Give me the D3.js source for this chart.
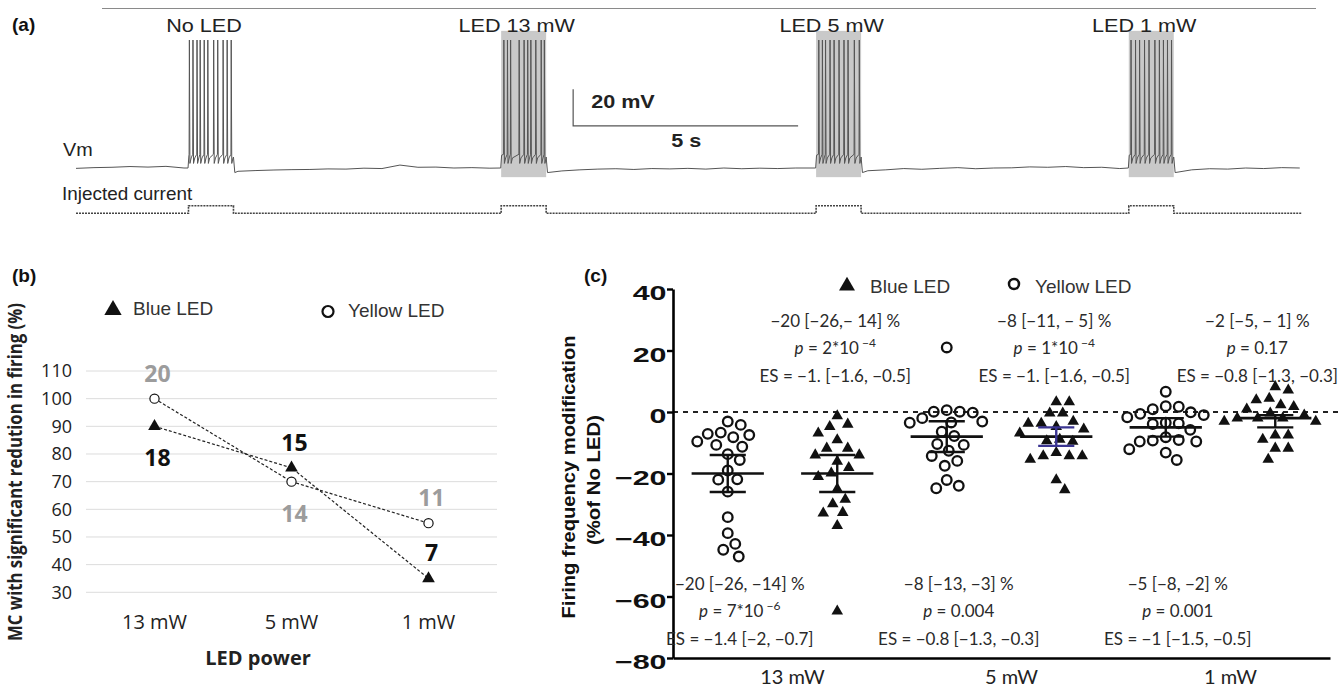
<!DOCTYPE html>
<meta charset="utf-8">
<head>
	<title>LED and mitral cell firing</title>
	<script src="https://cdnjs.cloudflare.com/ajax/libs/d3/7.8.5/d3.min.js" charset="utf-8"></script>
</head>

<style type="text/css">
	body { margin: 0; background: #fff; font-family: "Liberation Sans", Arial, sans-serif; }
	.plabel { font-family: "Liberation Sans", Arial, sans-serif; font-weight: bold; font-size: 19px; fill: #111; }
	.atext { font-family: "Liberation Sans", Arial, sans-serif; font-size: 18px; fill: #222; }
	.btick { font-family: "Open Sans", sans-serif; font-size: 18px; fill: #222; }
	.bcat { font-family: "Open Sans", sans-serif; font-size: 20px; fill: #222; }
	.bnum { font-family: "Open Sans", sans-serif; font-size: 23px; font-weight: bold; }
	.legend { font-family: "Liberation Sans", Arial, sans-serif; font-size: 19px; fill: #333; }
	.ann { font-family: Lato, "Open Sans", sans-serif; font-size: 17px; fill: #2a2a2a; }
	.ccat { font-family: Lato, "Open Sans", sans-serif; font-size: 20px; fill: #222; }
</style>

<body>
<div id="chart"></div>

<script>
// ---------- (a) trace ----------
var burstStarts = [2.5, 9.45, 16.45, 23.4];   // s
var burstDur = 1.0;
var burstLabels = ["No LED", "LED 13 mW", "LED 5 mW", "LED 1 mW"];
var ledOn = [false, true, true, true];
// spike times inside each burst (s from burst start)
var spikeTimes = [
	[0.02, 0.10, 0.19, 0.26, 0.35, 0.43, 0.56, 0.65, 0.77, 0.86, 0.95],
	[0.06, 0.14, 0.21, 0.40, 0.51, 0.59, 0.66, 0.77, 0.89, 0.96],
	[0.06, 0.14, 0.21, 0.31, 0.40, 0.51, 0.62, 0.71, 0.85, 0.96],
	[0.05, 0.15, 0.24, 0.35, 0.45, 0.58, 0.68, 0.77, 0.86, 0.95]
];
var spikePeak = 5; // mV
// resting Vm sampled every 0.4 s (null = inside burst)
var restStep = 0.4;
var restVm = [-65.2, -64.8, -64.6, -64.2, -64.5, -64.1, -65.0, null, null, -66.8,
	-66.4, -66.1, -65.9, -65.8, -65.5, -65.6, -65.1, -65.3, -63.4, -64.6,
	-64.5, -65.0, -64.8, -65.1, null, null, null, -66.6, -66.0, -65.6,
	-65.4, -65.8, -65.3, -65.5, -65.2, -65.6, -65.0, -65.4, -65.1, -65.3,
	-65.0, -65.2, null, null, -66.5, -66.0, -65.3, -65.7, -65.2, -64.8,
	-65.4, -65.0, -64.9, -64.4, -64.6, -64.2, -64.8, -64.6, -65.3, null,
	null, null, -66.0, -65.4, -65.6, -65.0, -65.3, -64.8, -65.0];

// ---------- (b) proportion ----------
var powers = ["13 mW", "5 mW", "1 mW"];
var bluePct = [90, 75, 35];
var yellowPct = [100, 70, 55];
var blueN = [18, 15, 7];
var yellowN = [20, 14, 11];
var pctTicks = [30, 40, 50, 60, 70, 80, 90, 100, 110];

// ---------- (c) firing modification (% of No LED) ----------
var yellowVals = [
	[-4.2, -3.1, -7.1, -8.2, -7.5, -6.7, -9.6, -11.3, -10.7, -13.7, -15.6, -19, -22, -21.9, -25.9, -34.2, -39.4, -42.9, -44.8, -47],
	[21, 0.1, 0.6, 0.1, -0.2, -2, -3.4, -3.5, -3.1, -7.8, -6.4, -10.7, -10.4, -12.6, -14.3, -15.9, -17.5, -22.1, -24.8, -24],
	[6.6, -0.1, 1.9, 1.7, 0.9, -1.7, -1, -0.6, -3.7, -3.5, -3.9, -5.8, -9.1, -9.6, -9.6, -9.3, -8.2, -12.1, -13.2, -15.6]
];
var blueVals = [
	[-1.3, -4.8, -4, -6.9, -9.1, -11.8, -11.8, -14, -14, -16.1, -18.1, -21, -19.9, -25, -28.4, -29.9, -32.9, -32.7, -37, -64.8],
	[3.3, 3.3, -0.4, -0.4, -5.6, -3.7, -3.7, -3.1, -4.8, -8.9, -9.6, -9.4, -6.9, -14.3, -14.3, -15.4, -14.3, -13.2, -22.1, -25.3],
	[7.1, 8.2, 3.9, 4.4, 1.7, 2.3, 0.9, -0.4, -2, -2, -2, -1, -3.1, -3.1, -7.5, -8.9, -7.5, -11.8, -11.8, -15.4]
];
var yellowMean = [-20, -8, -5], yellowLo = [-26, -13, -8], yellowHi = [-14, -3, -2];
var blueMean = [-20, -8, -2], blueLo = [-26, -11, -5], blueHi = [-14, -5, -1];
var modTicks = [40, 20, 0, -20, -40, -60, -80];

var blueCI = ["−20 [−26,− 14] %", "−8 [−11, − 5] %", "−2 [−5, − 1] %"];
var blueP = [["2*10", "−4"], ["1*10", "−4"], ["0.17", null]];
var blueES = ["ES = −1. [−1.6, −0.5]", "ES = −1. [−1.6, −0.5]", "ES = −0.8 [−1.3, −0.3]"];
var yellowCI = ["−20 [−26, −14] %", "−8 [−13, −3] %", "−5 [−8, −2] %"];
var yellowP = [["7*10", "−6"], ["0.004", null], ["0.001", null]];
var yellowES = ["ES = −1.4 [−2, −0.7]", "ES = −0.8 [−1.3, −0.3]", "ES = −1 [−1.5, −0.5]"];

var svg = d3.select("#chart").append("svg")
	.attr("width", 1342)
	.attr("height", 689);

function minus(d) { return d < 0 ? "−" + Math.abs(d) : String(d); }

// =========================== (a) ===========================
var gA = svg.append("g");
var xT = d3.scaleLinear().domain([0, 27.25]).range([76, 1302]);
var yVm = d3.scaleLinear().domain([-65, 5]).range([168, 40]);
var yI = d3.scaleLinear().domain([0, 1]).range([213.3, 205.7]);

gA.append("line")
	.attr("x1", 102).attr("x2", 1316).attr("y1", 8.5).attr("y2", 8.5)
	.attr("stroke", "#8a8a8a").attr("stroke-width", 1.2);

gA.append("text").attr("class", "plabel").attr("x", 12).attr("y", 31).text("(a)");

// LED shading
gA.selectAll(".led")
	.data(burstStarts.filter(function(s, i) { return ledOn[i]; }))
 .enter().append("rect")
	.attr("class", "led")
	.attr("x", function(d) { return xT(d); })
	.attr("width", xT(burstDur) - xT(0))
	.attr("y", yVm(10))
	.attr("height", yVm(-70) - yVm(10))
	.attr("fill", "#c9c9c9");

// build Vm points
var vmPts = [];
restVm.forEach(function(v, i) {
	var t = i * restStep;
	if (v === null) return;
	var inside = burstStarts.some(function(s) { return t > s - 0.05 && t < s + burstDur + 0.1; });
	if (!inside) vmPts.push([t, v]);
});
burstStarts.forEach(function(s, i) {
	vmPts.push([s - 0.01, -65], [s + 0.01, -58]);
	spikeTimes[i].forEach(function(t) {
		var ts = s + t;
		vmPts.push([ts - 0.006, -57.5], [ts, spikePeak], [ts + 0.012, -62.5], [ts + 0.04, -59.5]);
	});
	vmPts.push([s + burstDur, -59], [s + burstDur + 0.03, -67.5]);
});
vmPts.sort(function(a, b) { return a[0] - b[0]; });

gA.append("path")
	.datum(vmPts)
	.attr("fill", "none")
	.attr("stroke", "#555")
	.attr("stroke-width", 1)
	.attr("d", d3.line().x(function(d) { return xT(d[0]); }).y(function(d) { return yVm(d[1]); }));

// injected current
var iPts = [[0, 0]];
burstStarts.forEach(function(s) { iPts.push([s, 1], [s + burstDur, 0]); });
iPts.push([27.25, 0]);
gA.append("path")
	.datum(iPts)
	.attr("fill", "none")
	.attr("stroke", "#444")
	.attr("stroke-width", 1.6)
	.attr("stroke-dasharray", "2,1")
	.attr("d", d3.line().curve(d3.curveStepAfter).x(function(d) { return xT(d[0]); }).y(function(d) { return yI(d[1]); }));

gA.selectAll(".blab")
	.data(burstLabels)
 .enter().append("text")
	.attr("class", "atext")
	.attr("text-anchor", "middle")
	.attr("transform", function(d, i) { return "translate(" + (xT(burstStarts[i] + burstDur / 2) - 7) + ",32) scale(1.2,1)"; })
	.text(function(d) { return d; });

gA.append("text").attr("class", "atext").attr("transform", "translate(63,156) scale(1.1,1)").text("Vm");
gA.append("text").attr("class", "atext").attr("transform", "translate(62,200) scale(1.05,1)").text("Injected current");

// scale bar: 20 mV, 5 s
var sbT = 11.05, sbV = -42;
gA.append("path")
	.attr("fill", "none").attr("stroke", "#555").attr("stroke-width", 1.2)
	.attr("d", "M" + xT(sbT) + "," + yVm(sbV + 20) + "V" + yVm(sbV) + "H" + xT(sbT + 5));
gA.append("text").attr("class", "atext").attr("font-weight", "bold").attr("font-size", 16)
	.attr("transform", "translate(" + (xT(sbT) + 18) + "," + 108 + ") scale(1.2,1)").text("20 mV");
gA.append("text").attr("class", "atext").attr("font-weight", "bold").attr("font-size", 16)
	.attr("transform", "translate(" + (xT(sbT) + 98) + "," + 147 + ") scale(1.2,1)").text("5 s");

// =========================== (b) ===========================
var gB = svg.append("g");
var xB = d3.scalePoint().domain(powers).range([86, 497]).padding(0.5);
var yB = d3.scaleLinear().domain([30, 110]).range([592.3, 371]);

gB.append("text").attr("class", "plabel").attr("x", 12).attr("y", 282).text("(b)");

gB.selectAll(".grid")
	.data(pctTicks)
 .enter().append("line")
	.attr("x1", 86).attr("x2", 497)
	.attr("y1", function(d) { return yB(d); })
	.attr("y2", function(d) { return yB(d); })
	.attr("stroke", "#dcdcdc").attr("stroke-width", 1);

gB.selectAll(".btick")
	.data(pctTicks)
 .enter().append("text")
	.attr("class", "btick")
	.attr("x", 72)
	.attr("y", function(d) { return yB(d); })
	.attr("dy", "0.36em")
	.attr("text-anchor", "end")
	.text(function(d) { return d; });

gB.selectAll(".bcat")
	.data(powers)
 .enter().append("text")
	.attr("class", "bcat")
	.attr("x", function(d) { return xB(d); })
	.attr("y", 629)
	.attr("text-anchor", "middle")
	.text(function(d) { return d; });

gB.append("text").attr("class", "bcat").attr("font-weight", "bold").attr("font-size", 19)
	.attr("x", 258).attr("y", 665).attr("text-anchor", "middle").text("LED power");

gB.append("text").attr("class", "bcat").attr("font-weight", "bold").attr("font-size", 15)
	.attr("transform", "translate(22,472) rotate(-90)").attr("text-anchor", "middle")
	.attr("textLength", 338).attr("lengthAdjust", "spacingAndGlyphs")
	.text("MC with significant redution in firing (%)");

var lineB = d3.line().x(function(d, i) { return xB(powers[i]); }).y(function(d) { return yB(d); });
[bluePct, yellowPct].forEach(function(s) {
	gB.append("path").datum(s)
		.attr("fill", "none").attr("stroke", "#222").attr("stroke-width", 1.2)
		.attr("stroke-dasharray", "3,2").attr("d", lineB);
});

gB.selectAll(".bcirc")
	.data(yellowPct)
 .enter().append("circle")
	.attr("cx", function(d, i) { return xB(powers[i]); })
	.attr("cy", function(d) { return yB(d); })
	.attr("r", 4.6)
	.attr("fill", "#fff").attr("stroke", "#111").attr("stroke-width", 1.2);

gB.selectAll(".btri")
	.data(bluePct)
 .enter().append("path")
	.attr("d", d3.symbol(d3.symbolTriangle, 70))
	.attr("transform", function(d, i) { return "translate(" + xB(powers[i]) + "," + yB(d) + ")"; })
	.attr("fill", "#111");

// n labels: above or below the marker
var blueSide = [1, -1, -1], yellowSide = [-1, 1, -1];
function nLabel(vals, ns, side, col) {
	gB.selectAll(null)
		.data(ns)
	 .enter().append("text")
		.attr("class", "bnum")
		.attr("fill", col)
		.attr("text-anchor", "middle")
		.attr("x", function(d, i) { return xB(powers[i]) + 3; })
		.attr("y", function(d, i) { return yB(vals[i]) + (side[i] > 0 ? 40 : -17); })
		.text(function(d) { return d; });
}
nLabel(bluePct, blueN, blueSide, "#111");
nLabel(yellowPct, yellowN, yellowSide, "#9c9c9c");

// legend b
gB.append("path").attr("d", d3.symbol(d3.symbolTriangle, 130))
	.attr("transform", "translate(113,310)").attr("fill", "#111");
gB.append("text").attr("class", "legend").attr("x", 133).attr("y", 315).text("Blue LED");
gB.append("circle").attr("cx", 328).attr("cy", 311.5).attr("r", 5.5)
	.attr("fill", "#fff").attr("stroke", "#111").attr("stroke-width", 2.2);
gB.append("text").attr("class", "legend").attr("x", 348).attr("y", 317).text("Yellow LED");

// =========================== (c) ===========================
var gC = svg.append("g");
var cells = [];
powers.forEach(function(p) { cells.push(p + "|Y", p + "|B"); });
var xC = d3.scaleBand().domain(cells).range([673, 1330]);
var xG = d3.scaleBand().domain(powers).range([673, 1330]);
var yC = d3.scaleLinear().domain([-80, 40]).range([658, 289]);
var bw = xC.bandwidth();

gC.append("text").attr("class", "plabel").attr("x", 584).attr("y", 282).text("(c)");

// zero line
gC.append("line")
	.attr("x1", 673).attr("x2", 1342).attr("y1", yC(0)).attr("y2", yC(0))
	.attr("stroke", "#222").attr("stroke-width", 2).attr("stroke-dasharray", "5,5");

var yAx = gC.append("g")
	.attr("transform", "translate(673,0)")
	.call(d3.axisLeft(yC).tickValues(modTicks).tickSize(6).tickSizeOuter(0).tickFormat(minus));
yAx.select(".domain").attr("stroke-width", 2.6);
yAx.selectAll(".tick line").attr("stroke-width", 2.4);
yAx.selectAll(".tick text")
	.attr("font-family", "Liberation Sans, Arial, sans-serif")
	.attr("font-weight", "bold")
	.attr("font-size", 21)
	.attr("fill", "#111")
	.attr("x", -4.5)
	.attr("dy", "0.52em")
	.attr("transform", "scale(1.45,1)");

var xAx = gC.append("g")
	.attr("transform", "translate(0,658)")
	.call(d3.axisBottom(xG).tickSize(0).tickSizeOuter(0).tickPadding(12));
xAx.select(".domain").attr("stroke-width", 2.6);
xAx.selectAll(".tick text")
	.attr("class", "ccat")
	.attr("font-family", null).attr("font-size", null)
	.attr("x", 10);

gC.append("text").attr("class", "plabel").attr("font-size", 20)
	.attr("transform", "translate(575,477) rotate(-90)").attr("text-anchor", "middle")
	.attr("textLength", 283).attr("lengthAdjust", "spacingAndGlyphs")
	.text("Firing frequency modification");
gC.append("text").attr("class", "plabel").attr("font-size", 20)
	.attr("transform", "translate(600,480) rotate(-90)").attr("text-anchor", "middle")
	.attr("textLength", 130).attr("lengthAdjust", "spacingAndGlyphs")
	.text("(%of No LED)");

// simple beeswarm
function swarm(vals, cx, minDist) {
	var placed = [];
	vals.map(function(v) { return { v: v }; })
		.sort(function(a, b) { return b.v - a.v; })
		.forEach(function(d) {
			var py = yC(d.v), off = 0;
			for (var k = 0; k < 400; k++) {
				off = (k % 2 ? 1 : -1) * Math.ceil(k / 2) * 0.5;
				var ok = placed.every(function(p) {
					var dx = p.x - (cx + off), dy = p.y - py;
					return dx * dx + dy * dy >= minDist * minDist;
				});
				if (ok) break;
			}
			d.x = cx + off; d.y = py;
			placed.push(d);
		});
	return placed;
}

function ann(x, y0, ci, pv, es) {
	var g = gC.append("g");
	g.append("text").attr("class", "ann").attr("x", x).attr("y", y0).attr("text-anchor", "middle").text(ci);
	var t = g.append("text").attr("class", "ann").attr("x", x).attr("y", y0 + 27).attr("text-anchor", "middle");
	t.append("tspan").attr("font-style", "italic").text("p");
	t.append("tspan").text(" = " + pv[0]);
	if (pv[1]) t.append("tspan").attr("dy", -7).attr("font-size", 12).text(" " + pv[1]);
	g.append("text").attr("class", "ann").attr("x", x).attr("y", y0 + 55).attr("text-anchor", "middle").text(es);
	// keep the block inside the picture
	var bb = g.node().getBBox();
	var over = bb.x + bb.width - 1338;
	if (over > 0) g.attr("transform", "translate(" + (-over) + ",0)");
}

powers.forEach(function(p, gi) {
	var cy = xC(p + "|Y") + bw / 2, cb = xC(p + "|B") + bw / 2;

	gC.selectAll(null)
		.data(swarm(yellowVals[gi], cy, 13))
	 .enter().append("circle")
		.attr("cx", function(d) { return d.x; })
		.attr("cy", function(d) { return d.y; })
		.attr("r", 4.8)
		.attr("fill", "none").attr("stroke", "#111").attr("stroke-width", 2.3);

	gC.selectAll(null)
		.data(swarm(blueVals[gi], cb, 13))
	 .enter().append("path")
		.attr("d", d3.symbol(d3.symbolTriangle, 58))
		.attr("transform", function(d) { return "translate(" + d.x + "," + d.y + ")"; })
		.attr("fill", "#111");

	// mean and CI
	[[cy, yellowMean, yellowLo, yellowHi, "#111"], [cb, blueMean, blueLo, blueHi, (gi === 1 ? "#3b3592" : "#111")]]
		.forEach(function(s) {
			var c = s[0], m = s[1][gi], lo = s[2][gi], hi = s[3][gi], col = s[4];
			gC.append("line").attr("x1", c - bw * 0.33).attr("x2", c + bw * 0.33)
				.attr("y1", yC(m)).attr("y2", yC(m)).attr("stroke", "#111").attr("stroke-width", 2.6);
			gC.append("line").attr("x1", c).attr("x2", c).attr("y1", yC(hi)).attr("y2", yC(lo))
				.attr("stroke", col).attr("stroke-width", 2.4);
			[lo, hi].forEach(function(v) {
				gC.append("line").attr("x1", c - bw * 0.165).attr("x2", c + bw * 0.165)
					.attr("y1", yC(v)).attr("y2", yC(v)).attr("stroke", col).attr("stroke-width", 2.4);
			});
		});

	ann(cb - 2, 327, blueCI[gi], blueP[gi], blueES[gi]);
	ann(cy + 12, 590, yellowCI[gi], yellowP[gi], yellowES[gi]);
});

// legend c
gC.append("path").attr("d", d3.symbol(d3.symbolTriangle, 110))
	.attr("transform", "translate(847,286)").attr("fill", "#111");
gC.append("text").attr("class", "legend").attr("x", 870).attr("y", 293).text("Blue LED");
gC.append("circle").attr("cx", 1014).attr("cy", 284).attr("r", 5)
	.attr("fill", "#fff").attr("stroke", "#111").attr("stroke-width", 2.5);
gC.append("text").attr("class", "legend").attr("x", 1035).attr("y", 293).text("Yellow LED");
</script>
</body>
